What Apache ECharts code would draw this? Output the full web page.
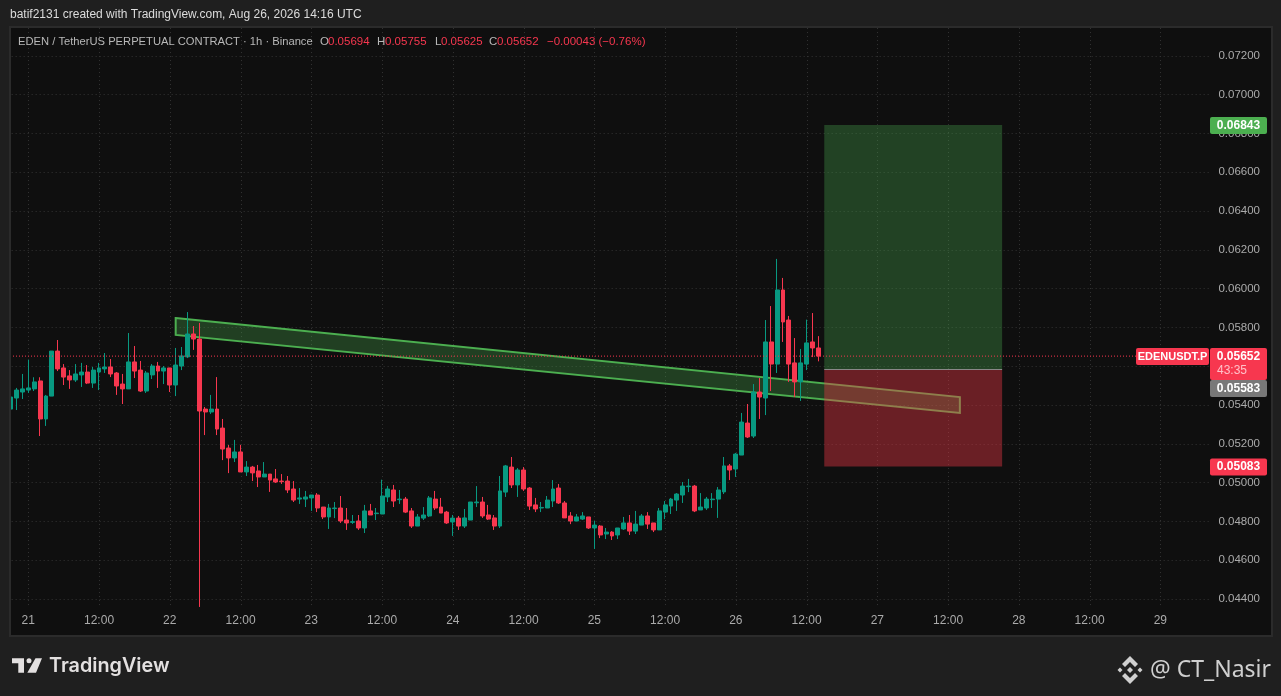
<!DOCTYPE html>
<html><head><meta charset="utf-8">
<style>html,body{margin:0;padding:0;background:#1f1f1f}#c{width:1281px;height:696px}</style>
<script src="https://cdn.jsdelivr.net/npm/echarts@6/dist/echarts.min.js"></script></head>
<body><div id="c"></div>
<script>
const opens=[0.05379,0.05436,0.05467,0.05477,0.05483,0.05524,0.05328,0.05446,0.05678,0.05591,
0.05550,0.05529,0.05555,0.05570,0.05513,0.05570,0.05586,0.05596,0.05565,0.05508,
0.05483,0.05622,0.05580,0.05472,0.05555,0.05601,0.05575,0.05591,0.05503,0.05601,
0.05648,0.05766,0.05740,0.05379,0.05364,0.05379,0.05281,0.05178,0.05127,0.05158,
0.05055,0.05080,0.05060,0.05029,0.05044,0.05019,0.05008,0.05008,0.04967,0.04915,
0.04915,0.04921,0.04936,0.04874,0.04823,0.04866,0.04869,0.04807,0.04795,0.04802,
0.04766,0.04854,0.04840,0.04838,0.04926,0.04962,0.04912,0.04915,0.04854,0.04776,
0.04817,0.04828,0.04915,0.04874,0.04848,0.04797,0.04817,0.04776,0.04807,0.04896,
0.04900,0.04833,0.04818,0.04776,0.04951,0.05080,0.04988,0.05065,0.04972,0.04885,
0.04869,0.04869,0.04905,0.04972,0.04895,0.04828,0.04802,0.04812,0.04823,0.04766,
0.04776,0.04735,0.04745,0.04730,0.04761,0.04792,0.04750,0.04781,0.04828,0.04792,
0.04756,0.04848,0.04879,0.04910,0.04936,0.04979,0.04982,0.04859,0.04869,0.04912,
0.04915,0.04952,0.05086,0.05070,0.05142,0.05307,0.05240,0.05467,0.05436,0.05725,
0.05611,0.05993,0.05838,0.05617,0.05519,0.05611,0.05725,0.05694];
const closes=[0.05441,0.05477,0.05483,0.05488,0.05519,0.05328,0.05446,0.05678,0.05586,0.05544,
0.05529,0.05560,0.05570,0.05513,0.05580,0.05591,0.05596,0.05560,0.05498,0.05483,
0.05622,0.05575,0.05472,0.05565,0.05601,0.05575,0.05591,0.05503,0.05606,0.05653,
0.05766,0.05740,0.05369,0.05364,0.05379,0.05276,0.05173,0.05127,0.05158,0.05055,
0.05080,0.05050,0.05029,0.05044,0.05013,0.05003,0.05005,0.04962,0.04910,0.04921,
0.04926,0.04936,0.04869,0.04823,0.04869,0.04869,0.04802,0.04792,0.04799,0.04766,
0.04854,0.04833,0.04843,0.04931,0.04967,0.04905,0.04915,0.04848,0.04776,0.04823,
0.04833,0.04921,0.04869,0.04843,0.04792,0.04817,0.04776,0.04818,0.04900,0.04900,
0.04828,0.04812,0.04776,0.04957,0.05086,0.04988,0.05065,0.04967,0.04879,0.04864,
0.04872,0.04910,0.04967,0.04895,0.04818,0.04802,0.04823,0.04828,0.04766,0.04781,
0.04730,0.04745,0.04725,0.04766,0.04792,0.04750,0.04786,0.04828,0.04786,0.04756,
0.04854,0.04885,0.04915,0.04941,0.04982,0.04982,0.04854,0.04874,0.04915,0.04915,
0.04962,0.05086,0.05065,0.05147,0.05312,0.05235,0.05467,0.05441,0.05725,0.05611,
0.05993,0.05828,0.05611,0.05519,0.05617,0.05720,0.05694,0.05652];
const lows=[0.05379,0.05374,0.05431,0.05462,0.05472,0.05240,0.05292,0.05446,0.05575,0.05503,
0.05483,0.05519,0.05493,0.05508,0.05488,0.05477,0.05565,0.05544,0.05452,0.05405,
0.05483,0.05539,0.05467,0.05462,0.05534,0.05488,0.05508,0.05467,0.05446,0.05580,
0.05642,0.05684,0.04359,0.05245,0.05354,0.05245,0.05116,0.05049,0.05106,0.05055,
0.05034,0.05008,0.04977,0.05029,0.04952,0.04998,0.04993,0.04946,0.04900,0.04890,
0.04874,0.04854,0.04848,0.04812,0.04761,0.04817,0.04792,0.04756,0.04787,0.04756,
0.04740,0.04833,0.04807,0.04838,0.04900,0.04874,0.04890,0.04843,0.04766,0.04776,
0.04807,0.04823,0.04859,0.04843,0.04787,0.04725,0.04756,0.04766,0.04807,0.04874,
0.04818,0.04807,0.04756,0.04766,0.04926,0.04972,0.04926,0.04957,0.04859,0.04848,
0.04848,0.04869,0.04874,0.04890,0.04818,0.04786,0.04802,0.04807,0.04761,0.04658,
0.04714,0.04709,0.04704,0.04709,0.04756,0.04730,0.04735,0.04781,0.04761,0.04745,
0.04756,0.04812,0.04838,0.04854,0.04895,0.04951,0.04848,0.04859,0.04859,0.04869,
0.04818,0.04941,0.05013,0.05029,0.05142,0.05230,0.05230,0.05328,0.05348,0.05472,
0.05565,0.05725,0.05519,0.05441,0.05421,0.05580,0.05647,0.05625];
const highs=[0.05465,0.05488,0.05560,0.05634,0.05543,0.05543,0.05452,0.05678,0.05735,0.05611,
0.05580,0.05611,0.05617,0.05606,0.05596,0.05617,0.05668,0.05637,0.05570,0.05560,
0.05771,0.05704,0.05627,0.05575,0.05611,0.05622,0.05601,0.05591,0.05694,0.05699,
0.05879,0.05807,0.05823,0.05390,0.05452,0.05544,0.05328,0.05194,0.05220,0.05194,
0.05111,0.05086,0.05091,0.05106,0.05044,0.05070,0.05044,0.05034,0.05008,0.04972,
0.04957,0.04936,0.04946,0.04874,0.04890,0.04900,0.04931,0.04869,0.04833,0.04833,
0.04885,0.04890,0.04869,0.05015,0.04983,0.04988,0.04962,0.04926,0.04869,0.04838,
0.04874,0.04931,0.04957,0.04921,0.04854,0.04833,0.04828,0.04864,0.04900,0.04982,
0.04926,0.04885,0.04833,0.05034,0.05091,0.05132,0.05075,0.05080,0.04977,0.04921,
0.04900,0.04931,0.05013,0.04993,0.04905,0.04848,0.04838,0.04848,0.04823,0.04802,
0.04781,0.04766,0.04750,0.04766,0.04823,0.04833,0.04854,0.04838,0.04848,0.04792,
0.04869,0.04905,0.04921,0.04946,0.05003,0.05019,0.04988,0.04946,0.04926,0.04946,
0.04977,0.05132,0.05096,0.05153,0.05359,0.05405,0.05508,0.05539,0.05838,0.05910,
0.06153,0.06055,0.05859,0.05745,0.05689,0.05840,0.05874,0.05755];

const FIRST_DAY=20, FIRST_HOUR=21, SLOTS=204;
const categories=[];
for(let i=0;i<SLOTS;i++){const h=FIRST_HOUR+i;categories.push((FIRST_DAY+Math.floor(h/24))+' '+String(h%24).padStart(2,'0')+':00');}
const candles=opens.map((o,i)=>[o,closes[i],lows[i],highs[i]]);
const dayTickIdx=[];for(let i=3;i<SLOTS;i+=12)dayTickIdx.push(i);

const lastPrice=0.05652, entryPrice=0.05583, targetPrice=0.06843, stopPrice=0.05083;
const boxStart=138, boxEnd=168;
const channel=[[28,0.05848],[161,0.05441],[161,0.05359],[28,0.05761]];

const UP='#089981', DOWN='#f7374f', TXT='#ababab', OUTER='#1f1f1f', PANE='#0f0f0f', EDGE='#2b2b2b';
const FONT='"Liberation Sans",Arial,sans-serif';

function one(render,z){return {type:'custom',data:[[0,0.05]],z:z,silent:true,animation:false,renderItem:render};}
function poly(api,pts,style){return {type:'polygon',shape:{points:pts.map(p=>api.coord(p))},style:style};}

const vGrid=one((p,api)=>({type:'group',children:dayTickIdx.map(i=>{
  const a=api.coord([i,0.07343]),b=api.coord([i,0.04359]);
  return {type:'line',shape:{x1:Math.round(a[0])+.5,y1:a[1],x2:Math.round(a[0])+.5,y2:b[1]},style:{stroke:'#343434',lineWidth:1,lineDash:[1,3]}};
})}),0);
const channelS=one((p,api)=>poly(api,channel,{fill:'rgba(76,175,80,0.30)',stroke:'#4caf50',lineWidth:2}),1);
const boxS=one((p,api)=>{
  const t=api.coord([boxStart,targetPrice]),e=api.coord([boxEnd,entryPrice]),s=api.coord([boxEnd,stopPrice]);
  return {type:'group',children:[
    {type:'rect',shape:{x:t[0],y:t[1],width:e[0]-t[0]+1,height:e[1]-t[1]},style:{fill:'rgba(76,175,80,0.32)'}},
    {type:'rect',shape:{x:t[0],y:e[1],width:e[0]-t[0]+1,height:s[1]-e[1]},style:{fill:'rgba(242,54,69,0.40)'}},
    {type:'line',shape:{x1:t[0],y1:e[1],x2:e[0]+1,y2:e[1]},style:{stroke:'#8a8a8a',lineWidth:1}}
  ]};
},1);
const priceLine=one((p,api)=>{
  const a=api.coord([0,lastPrice]),b=api.coord([191.5,lastPrice]);
  return {type:'line',shape:{x1:10,y1:a[1],x2:b[0],y2:a[1]},style:{stroke:DOWN,lineWidth:1,lineDash:[1,2]}};
},3);
function tag(y,h,fill,txt){return [
  {type:'rect',shape:{x:1210,y:y,width:57,height:h,r:2},style:{fill:fill}},
  {type:'text',style:{x:1238.5,y:y+8.5,text:txt,fill:'#fff',font:'bold 12px '+FONT,textAlign:'center',textVerticalAlign:'middle'}}
];}
const tags=one((p,api)=>{
  const Y=v=>api.coord([0,v])[1];
  const yl=Y(lastPrice);
  return {type:'group',children:[
    ...tag(Y(targetPrice)-8,17,'#4caf50',targetPrice.toFixed(5)),
    {type:'rect',shape:{x:1210,y:yl-8,width:57,height:32,r:2},style:{fill:DOWN}},
    {type:'text',style:{x:1238.5,y:yl+0.5,text:lastPrice.toFixed(5),fill:'#fff',font:'bold 12px '+FONT,textAlign:'center',textVerticalAlign:'middle'}},
    {type:'text',style:{x:1232,y:yl+15,text:'43:35',fill:'#ffc0c8',font:'12px '+FONT,textAlign:'center',textVerticalAlign:'middle'}},
    ...tag(yl+24,17,'#787878',entryPrice.toFixed(5)),
    ...tag(Y(stopPrice)-8,17,DOWN,stopPrice.toFixed(5)),
    {type:'rect',shape:{x:1136,y:yl-8,width:73,height:17,r:2},style:{fill:DOWN}},
    {type:'text',style:{x:1172.5,y:yl+0.5,text:'EDENUSDT.P',fill:'#fff',font:'bold 11px '+FONT,textAlign:'center',textVerticalAlign:'middle'}}
  ]};
},6);

function T(x,y,text,fill,font){return {type:'text',z:60,silent:true,style:{x:x,y:y,text:text,fill:fill,font:font,textVerticalAlign:'middle'}};}
const lg='11.5px '+FONT, lgName='11.2px '+FONT;
const graphic=[
 {type:'rect',z:50,shape:{x:0,y:0,width:1281,height:26},style:{fill:OUTER}},
 {type:'rect',z:50,shape:{x:0,y:636,width:1281,height:60},style:{fill:OUTER}},
 {type:'rect',z:50,shape:{x:0,y:0,width:9,height:696},style:{fill:OUTER}},
 {type:'rect',z:50,shape:{x:1273,y:0,width:8,height:696},style:{fill:OUTER}},
 {type:'rect',z:51,shape:{x:9,y:26,width:1264,height:2},style:{fill:EDGE}},
 {type:'rect',z:51,shape:{x:9,y:635,width:1264,height:2},style:{fill:EDGE}},
 {type:'rect',z:51,shape:{x:9,y:26,width:2,height:611},style:{fill:EDGE}},
 {type:'rect',z:51,shape:{x:1271,y:26,width:2,height:611},style:{fill:EDGE}},
 T(10,14.5,'batif2131 created with TradingView.com, Aug 26, 2026 14:16 UTC','#dcdcdc','12px '+FONT),
 T(18,42,'EDEN / TetherUS PERPETUAL CONTRACT · 1h · Binance','#b8b8b8',lgName),
 T(320,42,'O','#b8b8b8',lg),T(328,42,'0.05694',DOWN,lg),
 T(377,42,'H','#b8b8b8',lg),T(385,42,'0.05755',DOWN,lg),
 T(435,42,'L','#b8b8b8',lg),T(441,42,'0.05625',DOWN,lg),
 T(489,42,'C','#b8b8b8',lg),T(497,42,'0.05652',DOWN,lg),
 T(547,42,'−0.00043 (−0.76%)',DOWN,lg),
 {type:'polygon',z:60,silent:true,shape:{points:[[12,658.3],[24,658.3],[24,672.7],[18.3,672.7],[18.3,663.3],[12,663.3]]},style:{fill:'#e3e0e0'}},
 {type:'circle',z:60,silent:true,shape:{cx:29,cy:660.8,r:2.5},style:{fill:'#e3e0e0'}},
 {type:'polygon',z:60,silent:true,shape:{points:[[35.5,658.3],[42,658.3],[36,672.7],[27.3,672.7]]},style:{fill:'#e3e0e0'}},
 T(49,666,'TradingView','#e3e0e0','600 19.8px Inter,'+FONT),
 {type:'polygon',z:60,silent:true,shape:{points:[[1130,656],[1138,664],[1135,667],[1130,662],[1125,667],[1122,664]]},style:{fill:'#cfcfcf'}},
 {type:'polygon',z:60,silent:true,shape:{points:[[1130,684],[1138,676],[1135,673],[1130,678],[1125,673],[1122,676]]},style:{fill:'#cfcfcf'}},
 {type:'polygon',z:60,silent:true,shape:{points:[[1120,667.5],[1122.5,670],[1120,672.5],[1117.5,670]]},style:{fill:'#cfcfcf'}},
 {type:'polygon',z:60,silent:true,shape:{points:[[1140,667.5],[1142.5,670],[1140,672.5],[1137.5,670]]},style:{fill:'#cfcfcf'}},
 {type:'polygon',z:60,silent:true,shape:{points:[[1130,667],[1133,670],[1130,673],[1127,670]]},style:{fill:'#cfcfcf'}},
 T(1150,670,'@ CT_Nasir','#cfcfcf','23px "Noto Sans",'+FONT)
];

const chart=echarts.init(document.getElementById('c'),null,{renderer:'canvas'});
chart.setOption({
 animation:false,backgroundColor:PANE,
 grid:{left:7.65,width:1202.8,top:17,height:620.8,containLabel:false},
 xAxis:{type:'category',data:categories,boundaryGap:true,
   axisLine:{show:false},axisTick:{show:false},splitLine:{show:false},
   axisLabel:{color:TXT,fontFamily:FONT,fontSize:12,margin:-23,
     interval:(i)=>(i-3)%12===0,
     formatter:(v)=>{const [d,h]=v.split(' ');return h==='00:00'?d:h;}}},
 yAxis:{type:'value',position:'right',min:0.042,max:0.074,interval:0.002,scale:true,
   axisLine:{show:false},axisTick:{show:false},
   splitLine:{show:true,showMinLine:false,showMaxLine:false,lineStyle:{color:'#343434',width:1,type:[1,3]}},
   axisLabel:{color:TXT,fontFamily:FONT,fontSize:11.5,margin:8,showMinLabel:false,showMaxLabel:false,
     formatter:(v)=>v.toFixed(5)}},
 series:[vGrid,channelS,boxS,
  {type:'candlestick',data:candles,z:2,barWidth:4.4,silent:true,
   itemStyle:{color:UP,color0:DOWN,borderColor:UP,borderColor0:DOWN,borderWidth:1}},
  priceLine,tags],
 graphic:graphic
});
</script></body></html>
